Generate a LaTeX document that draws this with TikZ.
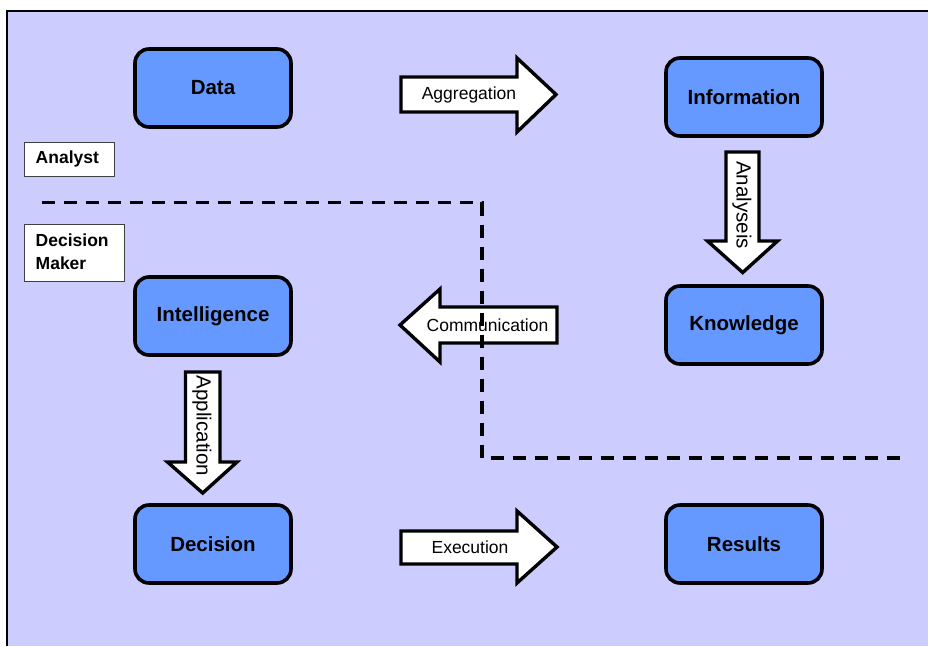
\documentclass[tikz,border=0pt]{standalone}
\usepackage{fontspec}
\setmainfont{Liberation Sans}
\definecolor{bgl}{HTML}{CCCCFF}
\definecolor{boxb}{HTML}{6699FF}
\begin{document}
\begin{tikzpicture}[x=1pt,y=-1pt,
  stage/.style={draw=black,line width=3.6pt,fill=boxb,rounded corners=14pt,
    minimum width=156pt,minimum height=78pt,inner sep=0pt,
    font=\fontsize{20.5}{24}\selectfont\bfseries},
  blockarrow/.style={draw=black,line width=3.4pt,fill=white,line join=miter},
  arrowlabel/.style={inner sep=0pt,font=\fontsize{17.5}{20}\selectfont},
  vlabel/.style={inner sep=0pt,rotate=-90,font=\fontsize{20.5}{24}\selectfont},
  rolebox/.style={draw=black!75,line width=1pt,fill=white,inner sep=0pt},
  roletext/.style={anchor=west,inner sep=0pt,align=left,
    font=\fontsize{17.5}{22.6}\selectfont\bfseries},
  sep/.style={line width=3.8pt,dash pattern=on 13pt off 9pt}]
\useasboundingbox (0,0) rectangle (928,646);
\fill[white] (0,0) rectangle (928,646);
\fill[bgl] (7,11) rectangle (928,646);
\draw[black,line width=1.4pt] (7,646) -- (7,11) -- (928,11);
% stages
\node[stage] (data) at (213,88) {Data};
\node[stage] (info) at (744,97) {Information};
\node[stage] (know) at (744,325) {Knowledge};
\node[stage] (intel) at (213,316) {Intelligence};
\node[stage] (dec) at (213,544) {Decision};
\node[stage] (res) at (744,544) {Results};
% role labels
\node[rolebox,anchor=north west,minimum width=90pt,minimum height=34pt] (analyst) at (23.5,142) {};
\node[roletext] (analysttxt) at (35.5,159) {Analyst};
\node[rolebox,anchor=north west,minimum width=100pt,minimum height=57pt] (dm) at (24,223.5) {};
\node[roletext] (dmtxt) at (35.5,252) {Decision\\Maker};
% dashed separator
\coordinate (d1) at (42,202.5);
\coordinate (d2) at (482,202.5);
\coordinate (d3) at (482,458);
\coordinate (d4) at (904,458);
\draw[sep] (d1) -- (d2) -- (d3) -- (d4);
% block arrows
\draw[blockarrow] (401,77) -- (517,77) -- (517,58) -- (556,94.5) -- (517,132) -- (517,112) -- (401,112) -- cycle;
\node[arrowlabel] (agg) at (469,94.5) {Aggregation};
\draw[blockarrow] (401,531) -- (517,531) -- (517,511) -- (557,547) -- (517,583) -- (517,564) -- (401,564) -- cycle;
\node[arrowlabel] (exe) at (470,547.5) {Execution};
\draw[blockarrow] (557,307) -- (440,307) -- (440,289) -- (400,325) -- (440,362) -- (440,343) -- (557,343) -- cycle;
\node[arrowlabel] (com) at (487.5,325) {Communication};
\draw[blockarrow] (726,152) -- (759,152) -- (759,241) -- (777.5,241) -- (742.7,272.5) -- (707.5,241) -- (726,241) -- cycle;
\node[vlabel] (ana) at (742,205) {Analyseis};
\draw[blockarrow] (185.5,372) -- (220,372) -- (220,462) -- (237,462) -- (202.7,493) -- (167.5,462) -- (185.5,462) -- cycle;
\node[vlabel] (app) at (202,426) {Application};
% dashed line passes over the communication arrow
\draw[sep] (d1) -- (d2) -- (d3);
\end{tikzpicture}
\end{document}
